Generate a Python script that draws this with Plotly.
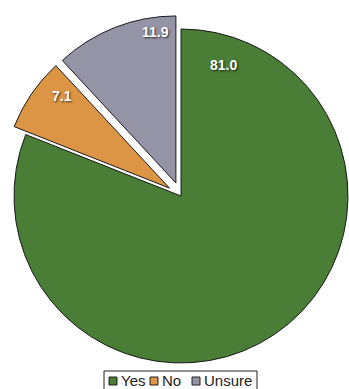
import math
import plotly.graph_objects as go

# Survey answers (percent)
categories = ["Yes", "No", "Unsure"]
values = [81.0, 7.1, 11.9]
colors = ["#4a7d35", "#dc9445", "#9494a6"]
exploded = [False, True, True]

# Figure / pie geometry (pixels)
W, H = 349, 389
R = 167            # pie radius
CX, CY = 181, 196  # pie centre, measured from the top-left corner
PULL = 0.084       # explode distance as a fraction of the radius

# Where each value label sits: fraction along the slice's sweep, radius fraction
label_frac = [0.058, 0.74, 0.83]
label_rad = [0.88, 0.94, 0.97]

total = sum(values)
fig = go.Figure()

start = 0.0
annotations = []
for i, (cat, val) in enumerate(zip(categories, values)):
    sweep = 360.0 * val / total
    mid = math.radians(start + sweep / 2)
    d = PULL * R if exploded[i] else 0.0
    cx = CX + d * math.sin(mid)
    cy = CY - d * math.cos(mid)

    slice_colors = ["rgba(0,0,0,0)"] * len(values)
    slice_colors[i] = colors[i]
    line_colors = ["rgba(0,0,0,0)"] * len(values)
    line_colors[i] = "#1a1a1a"

    fig.add_trace(go.Pie(
        labels=categories,
        values=values,
        sort=False,
        direction="clockwise",
        rotation=0,
        marker=dict(colors=slice_colors, line=dict(color=line_colors, width=1)),
        textinfo="none",
        hoverinfo="label+value",
        showlegend=False,
        domain=dict(
            x=[(cx - R) / W, (cx + R) / W],
            y=[(H - cy - R) / H, (H - cy + R) / H],
        ),
    ))

    # value label
    a = math.radians(start + sweep * label_frac[i])
    lx = cx + label_rad[i] * R * math.sin(a)
    ly = cy - label_rad[i] * R * math.cos(a)
    annotations.append(dict(
        x=lx / W, y=1 - ly / H, xref="paper", yref="paper",
        text=f"<b>{val:.1f}</b>", showarrow=False,
        font=dict(family="Liberation Sans, Arial", size=14, color="white",
                  shadow="1px 1px 2px rgba(0,0,0,0.7)"),
    ))
    start += sweep

# Legend box drawn underneath the pie
shapes = [dict(type="rect", xref="paper", yref="paper",
               x0=104 / W, x1=257 / W, y0=1 - 393 / H, y1=1 - 371 / H,
               line=dict(color="#222", width=1), fillcolor="white")]
legend_x = [109, 150, 192]
for cat, col, lx in zip(categories, colors, legend_x):
    shapes.append(dict(type="rect", xref="paper", yref="paper",
                       x0=lx / W, x1=(lx + 8) / W,
                       y0=1 - 385 / H, y1=1 - 377 / H,
                       line=dict(color="#222", width=1), fillcolor=col))
    annotations.append(dict(
        x=(lx + 10) / W, y=1 - 380.5 / H, xref="paper", yref="paper",
        xanchor="left", yanchor="middle", text=cat, showarrow=False,
        font=dict(family="Liberation Sans, Arial", size=15, color="#222"),
    ))

fig.update_layout(
    width=W, height=H,
    margin=dict(l=0, r=0, t=0, b=0),
    paper_bgcolor="white",
    plot_bgcolor="white",
    shapes=shapes,
    annotations=annotations,
)

fig.write_html("out.html")
